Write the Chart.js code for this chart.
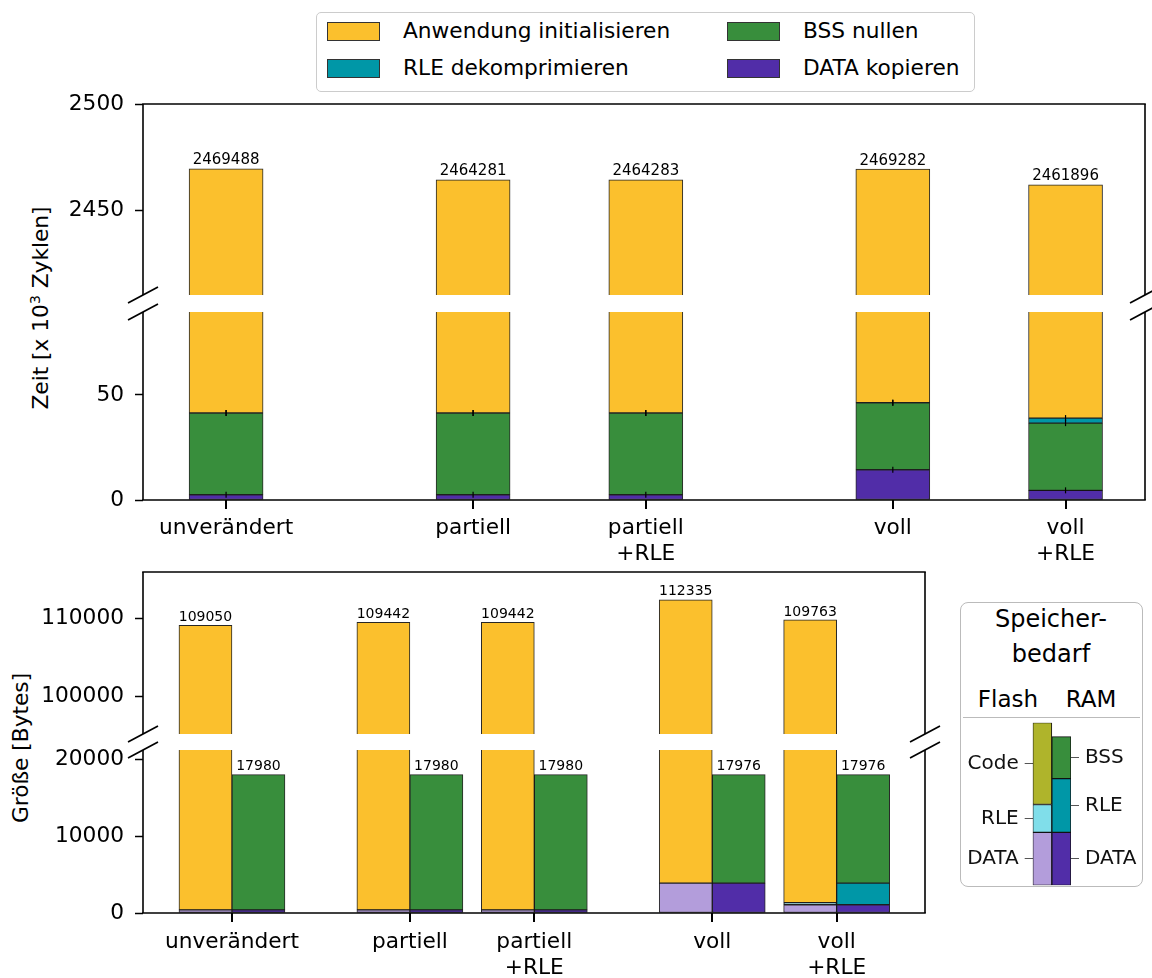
<!DOCTYPE html>
<html>
<head>
<meta charset="utf-8">
<script src="https://cdn.jsdelivr.net/npm/chart.js@4/dist/chart.umd.min.js"></script>
<style>
  body { margin: 0; background: #fff; font-family: 'DejaVu Sans', sans-serif; color: #000; }
  #page { position: relative; width: 1152px; height: 978px; overflow: hidden; }
  canvas { position: absolute; left: 0; }
  .ytitle { position: absolute; white-space: nowrap; font-size: 21.7px; transform: translate(-50%, -50%) rotate(-90deg); }
  .ytitle sup { font-size: 14px; }
  #legend { position: absolute; left: 316px; top: 12px; width: 657px; height: 78px; border: 1.5px solid #ccc; border-radius: 5px; }
  .patch { position: absolute; width: 53px; height: 19px; border: 1px solid #333; box-sizing: border-box; }
  .ltext { position: absolute; font-size: 21.7px; line-height: 26px; white-space: nowrap; }
  #mem { position: absolute; left: 960px; top: 602px; width: 181px; height: 283px; border: 1.5px solid #bbb; border-radius: 8px; }
  .mtext { position: absolute; white-space: nowrap; transform: translateX(-50%); }
</style>
</head>
<body>
<div id="page">
  <div id="legend"></div>
  <div class="ytitle" style="left:40px; top:308px;">Zeit [x 10<sup>3</sup> Zyklen]</div>
  <div class="ytitle" style="left:20px; top:748px;">Größe [Bytes]</div>

  <div id="mem">
    <div class="mtext" style="left:90px; top:-1px; font-size:24px; line-height:35px; text-align:center;">Speicher-<br>bedarf</div>
    <div class="mtext" style="left:47px; top:82px; font-size:23px; line-height:28px;">Flash</div>
    <div class="mtext" style="left:130px; top:82px; font-size:23px; line-height:28px;">RAM</div>
    <div style="position:absolute; left:2px; right:2px; top:114px; border-top:1.5px solid #bbb;"></div>
  </div>

  <canvas id="timeHi" width="1152" height="215" style="top:90px"></canvas>
  <canvas id="timeLo" width="1152" height="262" style="top:300px"></canvas>
  <canvas id="sizeHi" width="1152" height="184" style="top:560px"></canvas>
  <canvas id="sizeLo" width="1152" height="238" style="top:740px"></canvas>
  <canvas id="memChart" width="183" height="172" style="left:960px; top:718px"></canvas>
</div>

<script>
// categories and their x positions
const categories = [['unverändert'], ['partiell'], ['partiell', '+RLE'], ['voll'], ['voll', '+RLE']];
const positions = [0, 1.43, 2.43, 3.86, 4.86];

// Zeit [x 10^3 Zyklen], stacked bottom -> top
const cycleTotals = [2469488, 2464281, 2464283, 2469282, 2461896];
const timeData = [2.5, 2.5, 2.5, 14.4, 4.6];
const timeBss = [38.9, 38.9, 38.9, 31.9, 32.0];
const timeRle = [0, 0, 0, 0, 2.4];
const timeApp = [2428.09, 2422.88, 2422.88, 2422.98, 2422.90];

// Größe [Bytes]
const flashTotals = [109050, 109442, 109442, 112335, 109763];
const ramTotals = [17980, 17980, 17980, 17976, 17976];
const flashData = [400, 400, 400, 3870, 1070];
const flashRle = [0, 0, 0, 0, 260];
const flashCode = [108650, 109042, 109042, 108465, 108433];
const ramData = [400, 400, 400, 3870, 1070];
const ramRle = [0, 0, 0, 0, 2800];
const ramBss = [17580, 17580, 17580, 14106, 14106];

// y ticks of the broken axes
const timeTicksHi = [2450, 2500];
const timeTicksLo = [0, 50];
const sizeTicksHi = [100000, 110000];
const sizeTicksLo = [0, 10000, 20000];

// Speicherbedarf schematic (DATA, RLE, Code/BSS)
const memFlash = [53, 28, 82];
const memRam = [53, 54, 42];
const memFlashLabels = ['DATA', 'RLE', 'Code'];
const memRamLabels = ['DATA', 'RLE', 'BSS'];

const C = {
  app: '#FBC02D', bss: '#388E3C', rle: '#0097A7', data: '#512DA8',
  dataLight: '#B39DDB', rleLight: '#80DEEA', code: '#AFB42B'
};

const legendItems = [
  ['Anwendung initialisieren', C.app], ['BSS nullen', C.bss],
  ['RLE dekomprimieren', C.rle], ['DATA kopieren', C.data]
];

const FS = 21.7;
Chart.defaults.font.family = "'DejaVu Sans', sans-serif";
Chart.defaults.color = '#000';

// legend box
const lg = document.getElementById('legend');
legendItems.forEach((it, i) => {
  const col = i % 2, row = Math.floor(i / 2);
  const left = col ? 410 : 10, top = row ? 46 : 9;
  lg.insertAdjacentHTML('beforeend',
    '<div class="patch" style="left:' + left + 'px; top:' + top + 'px; background:' + it[1] + '"></div>' +
    '<div class="ltext" style="left:' + (left + 76) + 'px; top:' + (top - 4) + 'px">' + it[0] + '</div>');
});

// no label overhang padding, so the plot area sits where the layout says
const noPad = s => { s.paddingTop = 0; s.paddingBottom = 0; s.paddingLeft = 0; s.paddingRight = 0; };

// spines, break marks, x tick marks, error ticks and value labels
const decor = {
  id: 'decor',
  afterDatasetsDraw(chart, args, opts) {
    const ctx = chart.ctx;
    ctx.save();
    (opts.errTicks || []).forEach(di => {
      chart.getDatasetMeta(di).data.forEach(el => {
        ctx.beginPath();
        ctx.moveTo(el.x, el.y - 3);
        ctx.lineTo(el.x, el.y + 3);
        ctx.strokeStyle = '#000';
        ctx.lineWidth = 1.2;
        ctx.stroke();
      });
    });
    (opts.labels || []).forEach(l => {
      ctx.font = l.size + "px 'DejaVu Sans'";
      ctx.fillStyle = '#000';
      ctx.textAlign = 'center';
      ctx.textBaseline = 'bottom';
      chart.getDatasetMeta(l.dataset).data.forEach((el, i) => {
        ctx.fillText(String(l.values[i]), el.x, el.y - 1);
      });
    });
    if (opts.tickMarks) {
      // x tick marks below the category axis, at the scale position of each category
      const xs = chart.scales.x, bottom = chart.chartArea.bottom;
      ctx.fillStyle = '#000';
      positions.forEach(p => {
        ctx.fillRect(Math.round(xs.getPixelForValue(p)) - 1, Math.round(bottom), 2, 9);
      });
    }
    ctx.restore();
  },
  afterDraw(chart, args, opts) {
    if (!opts.breakAt) return;
    const ctx = chart.ctx, a = chart.chartArea;
    ctx.save();
    ctx.strokeStyle = '#000';
    ctx.lineWidth = 1.6;
    const line = (x1, y1, x2, y2) => { ctx.beginPath(); ctx.moveTo(x1, y1); ctx.lineTo(x2, y2); ctx.stroke(); };
    (opts.spines || []).forEach(s => {
      if (s === 'left') line(a.left, a.top, a.left, a.bottom);
      if (s === 'right') line(a.right, a.top, a.right, a.bottom);
      if (s === 'top') line(a.left - 0.8, a.top, a.right + 0.8, a.top);
      if (s === 'bottom') line(a.left - 0.8, a.bottom, a.right + 0.8, a.bottom);
    });
    const y = opts.breakAt === 'top' ? a.top : a.bottom;
    [a.left, a.right].forEach(x => line(x - 15, y + 8, x + 15, y - 8));
    ctx.restore();
  }
};
Chart.register(decor);

const pts = vals => positions.map((p, i) => ({ x: p, y: vals[i] }));

function panel(id, datasets, o) {
  return new Chart(document.getElementById(id), {
    type: 'bar',
    data: { datasets },
    options: {
      responsive: false,
      animation: false,
      layout: { padding: o.padding },
      datasets: {
        bar: { barThickness: o.barW, borderWidth: 1, borderColor: 'rgba(0,0,0,0.85)', borderSkipped: false, clip: 0 }
      },
      plugins: { legend: { display: false }, tooltip: { enabled: false }, decor: o.decor },
      scales: {
        x: {
          type: 'linear', stacked: true, offset: false, min: o.xMin, max: o.xMax,
          display: o.showX,
          afterBuildTicks: s => { s.ticks = positions.map(v => ({ value: v })); },
          afterFit: s => { s.height = o.xHeight || 0; noPad(s); },
          ticks: { autoSkip: false, maxRotation: 0, padding: o.xPad || 8, font: { size: FS }, color: '#000',
                   callback: (v, i) => categories[i] },
          grid: { display: false },
          border: { display: false }
        },
        y: {
          stacked: true, min: o.yMin, max: o.yMax,
          afterBuildTicks: s => { s.ticks = o.yTicks.map(v => ({ value: v })); },
          afterFit: s => { s.width = 143; noPad(s); },
          ticks: { padding: 11, font: { size: FS }, color: '#000', callback: v => String(v) },
          grid: { display: true, offset: false, drawOnChartArea: false, drawTicks: true,
                  tickLength: 8, tickWidth: 1.5, tickColor: '#000' },
          border: { display: false }
        }
      }
    }
  });
}

function timeSets() {
  return [
    { label: 'DATA kopieren', data: pts(timeData), backgroundColor: C.data, stack: 't' },
    { label: 'BSS nullen', data: pts(timeBss), backgroundColor: C.bss, stack: 't' },
    { label: 'RLE dekomprimieren', data: pts(timeRle), backgroundColor: C.rle, stack: 't' },
    { label: 'Anwendung initialisieren', data: pts(timeApp), backgroundColor: C.app, stack: 't' }
  ];
}

function sizeSets() {
  return [
    { label: 'Flash DATA', data: pts(flashData), backgroundColor: C.dataLight, stack: 'flash' },
    { label: 'Flash RLE', data: pts(flashRle), backgroundColor: C.rleLight, stack: 'flash' },
    { label: 'Flash Code', data: pts(flashCode), backgroundColor: C.app, stack: 'flash' },
    { label: 'RAM DATA', data: pts(ramData), backgroundColor: C.data, stack: 'ram' },
    { label: 'RAM RLE', data: pts(ramRle), backgroundColor: C.rle, stack: 'ram' },
    { label: 'RAM BSS', data: pts(ramBss), backgroundColor: C.bss, stack: 'ram' }
  ];
}

const timeX = { xMin: -0.481, xMax: 5.32, barW: 74 };
const sizeX = { xMin: -0.715, xMax: 5.57, barW: 53 };

panel('timeHi', timeSets(), Object.assign({}, timeX, {
  padding: { top: 14, right: 7, bottom: 10 }, showX: false,
  yMin: 2410, yMax: 2500, yTicks: timeTicksHi,
  decor: { spines: ['left', 'top', 'right'], breakAt: 'bottom',
           labels: [{ dataset: 3, values: cycleTotals, size: 15 }] }
}));

panel('timeLo', timeSets(), Object.assign({}, timeX, {
  padding: { top: 12, right: 7, bottom: 0 }, showX: true, xHeight: 62, xPad: 7,
  yMin: 0, yMax: 89.5, yTicks: timeTicksLo,
  decor: { spines: ['left', 'bottom', 'right'], breakAt: 'top', errTicks: [0, 1, 2], tickMarks: 1 }
}));

panel('sizeHi', sizeSets(), Object.assign({}, sizeX, {
  padding: { top: 12, right: 227, bottom: 10 }, showX: false,
  yMin: 95130, yMax: 115900, yTicks: sizeTicksHi,
  decor: { spines: ['left', 'top', 'right'], breakAt: 'bottom',
           labels: [{ dataset: 2, values: flashTotals, size: 14 }] }
}));

panel('sizeLo', sizeSets(), Object.assign({}, sizeX, {
  padding: { top: 10, right: 227, bottom: 0 }, showX: true, xHeight: 65, xPad: 8,
  yMin: 0, yMax: 21170, yTicks: sizeTicksLo,
  decor: { spines: ['left', 'bottom', 'right'], breakAt: 'top', tickMarks: 1,
           labels: [{ dataset: 5, values: ramTotals, size: 14 }] }
}));

// Speicherbedarf schematic: label ticks sit at the middle of each segment
const mids = vals => vals.map((v, i) => vals.slice(0, i).reduce((s, x) => s + x, 0) + v / 2);
const memMax = Math.max(memFlash.reduce((s, x) => s + x, 0), memRam.reduce((s, x) => s + x, 0));
const memSegColors = [[C.dataLight, C.data], [C.rleLight, C.rle], [C.code, C.bss]];
const memAxis = (ticksArr, labels, width, pos) => ({
  position: pos, stacked: true, min: 0, max: memMax,
  afterBuildTicks: s => { s.ticks = ticksArr.map(v => ({ value: v })); },
  afterFit: s => { s.width = width; noPad(s); },
  ticks: { padding: 6, font: { size: 20 }, color: '#111', callback: (v, i) => labels[i] },
  grid: { display: true, drawOnChartArea: false, drawTicks: true, tickLength: 8, tickWidth: 1, tickColor: '#555' },
  border: { display: false }
});

new Chart(document.getElementById('memChart'), {
  type: 'bar',
  data: {
    labels: ['Flash', 'RAM'],
    datasets: memSegColors.map((cols, k) => ({
      data: [memFlash[k], memRam[k]], backgroundColor: cols, yAxisID: 'y'
    }))
  },
  options: {
    responsive: false,
    animation: false,
    layout: { padding: { top: 4.7, bottom: 4.7 } },
    datasets: { bar: { barPercentage: 1, categoryPercentage: 1, borderWidth: 1, borderColor: '#111', borderSkipped: false } },
    plugins: { legend: { display: false }, tooltip: { enabled: false } },
    scales: {
      x: { stacked: true, display: false },
      y: memAxis(mids(memFlash), memFlashLabels, 72.7, 'left'),
      y2: memAxis(mids(memRam), memRamLabels, 72, 'right')
    }
  }
});
</script>
</body>
</html>
